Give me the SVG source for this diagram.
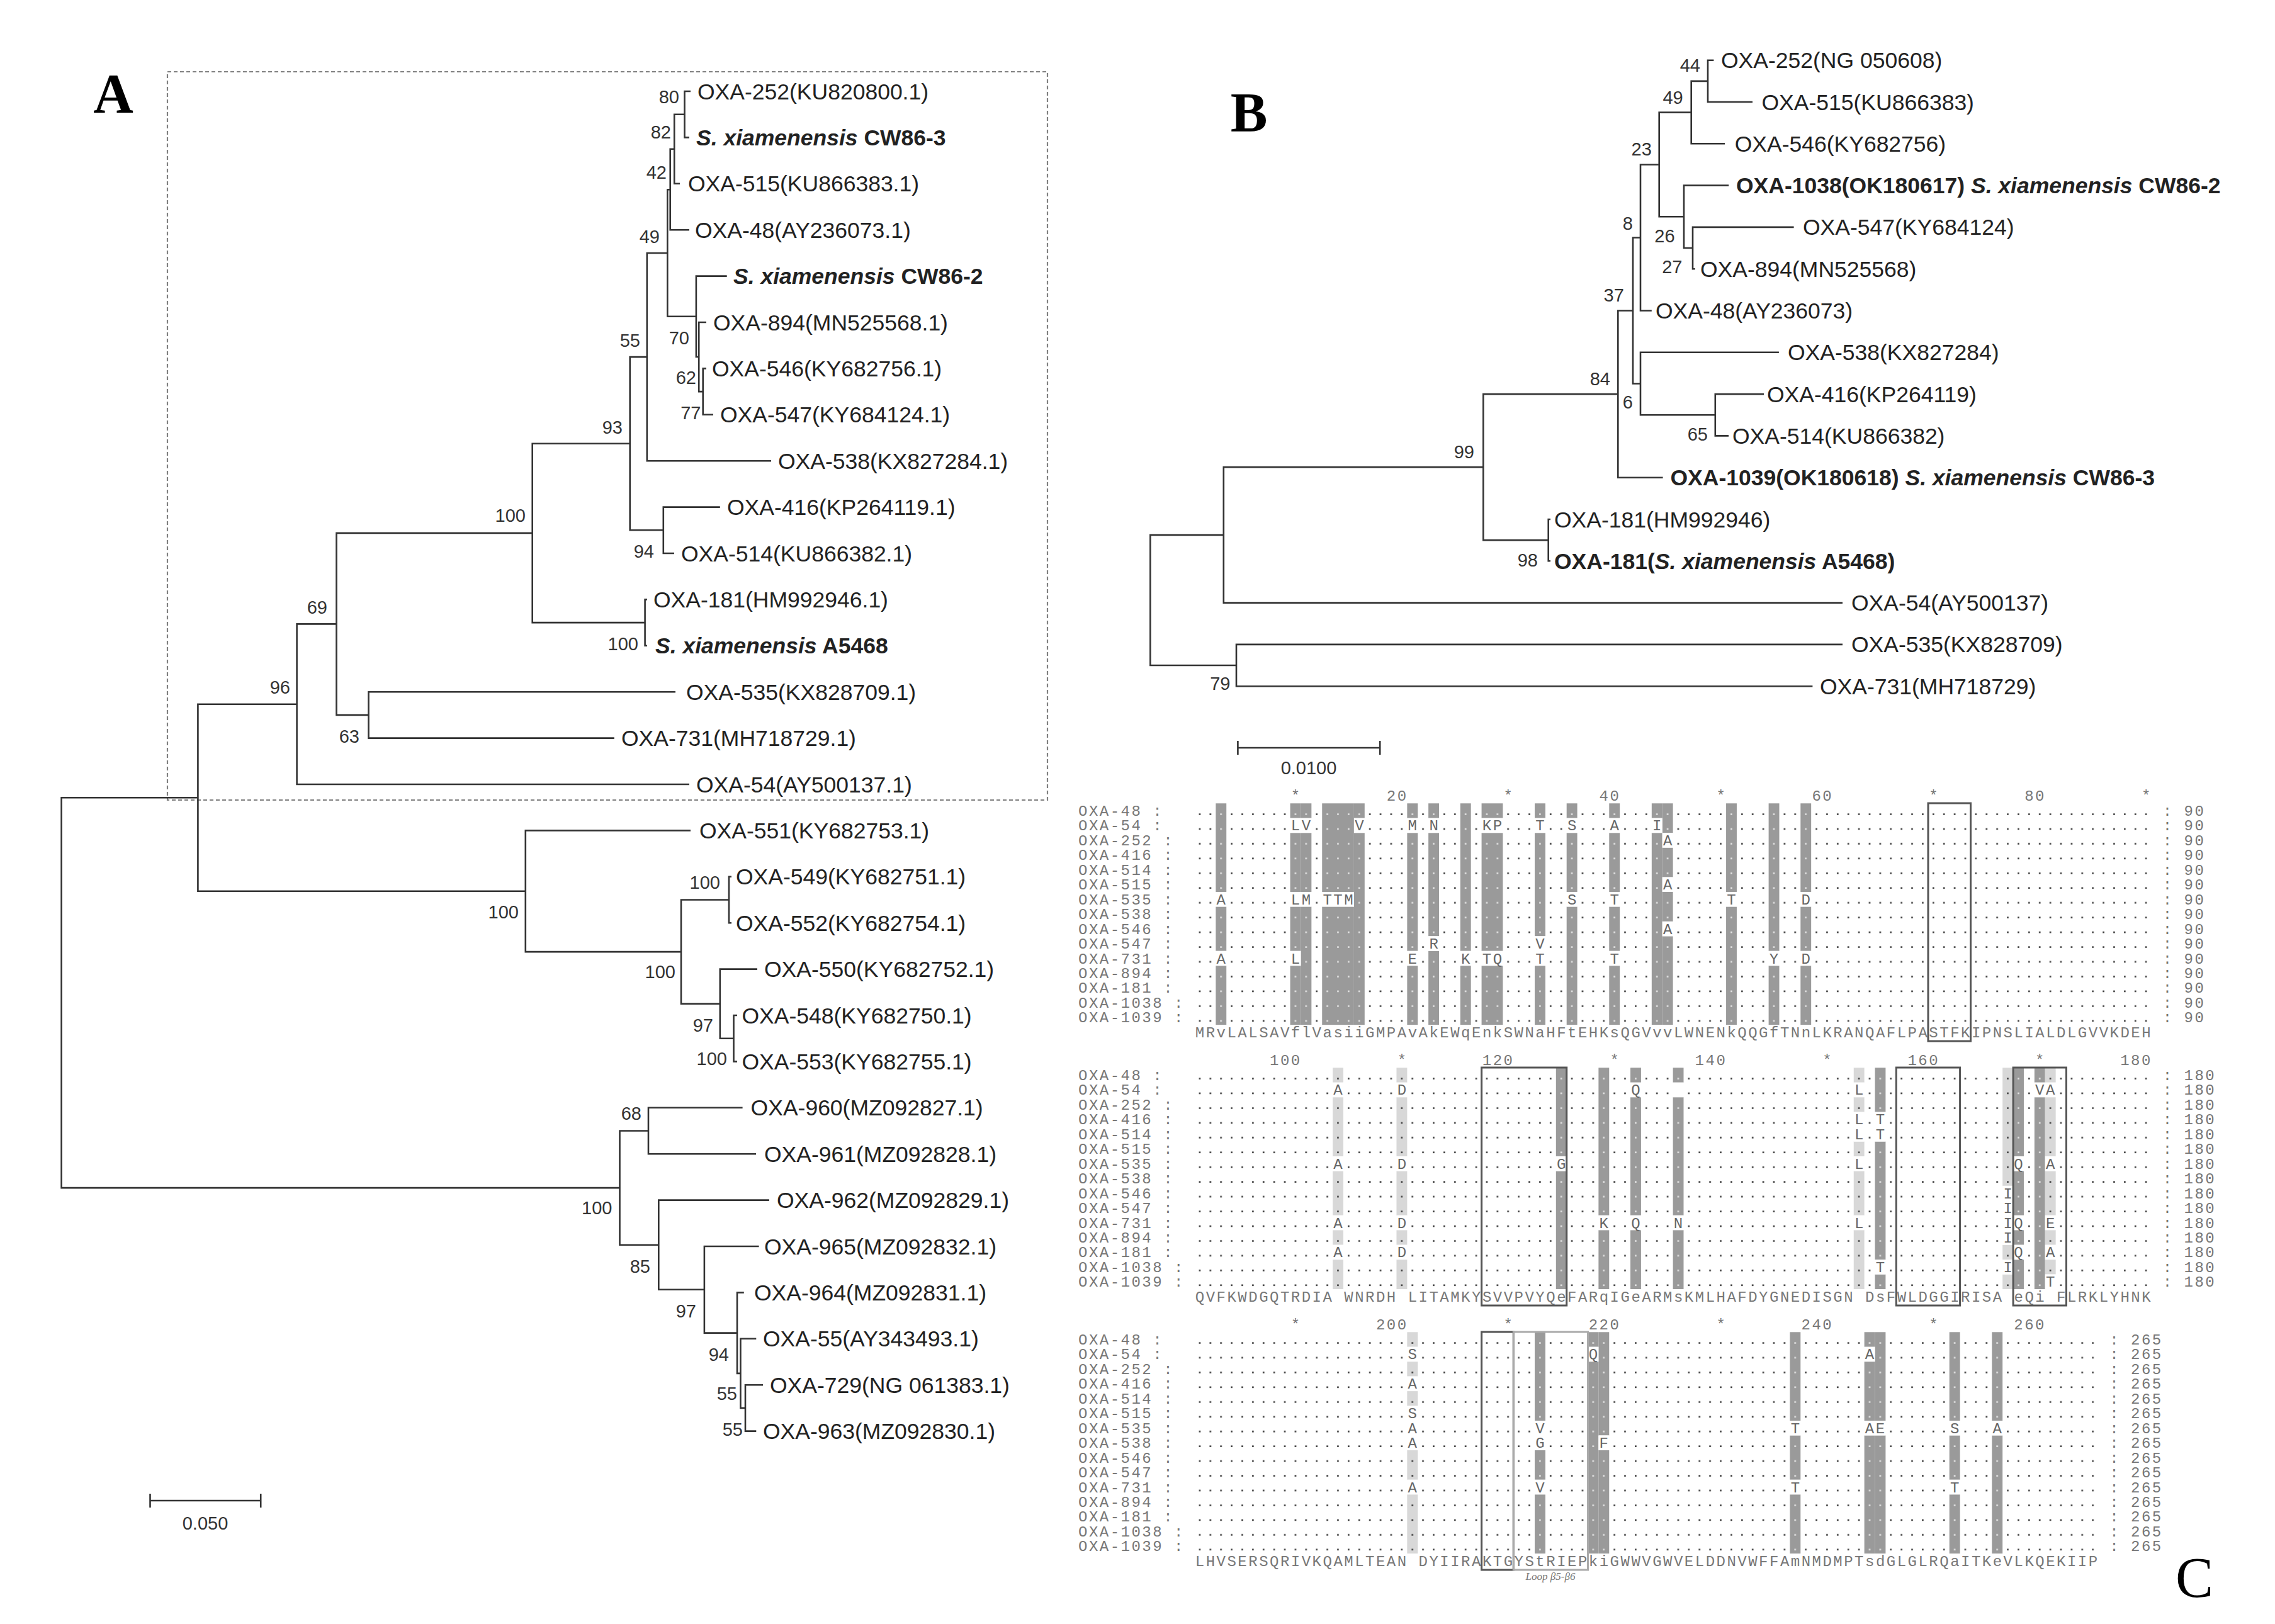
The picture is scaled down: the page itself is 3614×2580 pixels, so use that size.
<svg xmlns="http://www.w3.org/2000/svg" width="3614" height="2580" viewBox="0 0 3614 2580">
<style>
.t{font-family:"Liberation Sans",Arial,sans-serif;font-size:35.5px;fill:#222}
.b{font-weight:bold}
.i{font-style:italic}
.bs{font-family:"Liberation Sans",Arial,sans-serif;font-size:29px;fill:#333;text-anchor:end}
.sc{font-family:"Liberation Sans",Arial,sans-serif;font-size:29px;fill:#333;text-anchor:middle}
.br{fill:none;stroke:#333;stroke-width:2.6}
.pl{font-family:"Liberation Serif","Times New Roman",serif;font-size:88px;font-weight:bold;fill:#000;text-anchor:middle}
.m{font-family:"Liberation Mono","Courier New",monospace;font-size:24px;letter-spacing:2.49px;fill:#777;white-space:pre}
.mu{font-family:"Liberation Mono","Courier New",monospace;font-size:24px;fill:#666;text-anchor:middle}
.bx{fill:none;stroke:#555;stroke-width:3}
</style>
<defs>
<pattern id="dd" patternUnits="userSpaceOnUse" width="1" height="1"><rect x="0.42" y="0.68" width="0.15" height="0.11" fill="#333"/></pattern>
<pattern id="ld" patternUnits="userSpaceOnUse" width="1" height="1"><rect x="0.42" y="0.68" width="0.15" height="0.11" fill="#e6e6e6"/></pattern>
<g id="s1">
<rect x="2" y="0" width="1" height="6"/><rect x="2" y="7" width="1" height="3"/><rect x="2" y="11" width="1" height="4"/>
<rect x="9" y="0" width="1" height="1"/><rect x="9" y="2" width="1" height="4"/><rect x="9" y="7" width="1" height="3"/><rect x="9" y="11" width="1" height="4"/>
<rect x="10" y="0" width="1" height="1"/><rect x="10" y="2" width="1" height="4"/><rect x="10" y="7" width="1" height="8"/>
<rect x="12" y="0" width="3" height="6"/><rect x="12" y="7" width="3" height="8"/>
<rect x="15" y="0" width="1" height="1"/><rect x="15" y="2" width="1" height="13"/>
<rect x="20" y="0" width="1" height="1"/><rect x="20" y="2" width="1" height="8"/><rect x="20" y="11" width="1" height="4"/>
<rect x="22" y="0" width="1" height="1"/><rect x="22" y="2" width="1" height="7"/><rect x="22" y="10" width="1" height="5"/>
<rect x="25" y="0" width="1" height="10"/><rect x="25" y="11" width="1" height="4"/>
<rect x="27" y="0" width="2" height="1"/><rect x="27" y="2" width="2" height="8"/><rect x="27" y="11" width="2" height="4"/>
<rect x="32" y="0" width="1" height="1"/><rect x="32" y="2" width="1" height="7"/><rect x="32" y="11" width="1" height="4"/>
<rect x="35" y="0" width="1" height="1"/><rect x="35" y="2" width="1" height="4"/><rect x="35" y="7" width="1" height="8"/>
<rect x="39" y="0" width="1" height="1"/><rect x="39" y="2" width="1" height="4"/><rect x="39" y="7" width="1" height="3"/><rect x="39" y="11" width="1" height="4"/>
<rect x="43" y="0" width="1" height="1"/><rect x="43" y="2" width="1" height="13"/>
<rect x="44" y="0" width="1" height="2"/><rect x="44" y="3" width="1" height="2"/><rect x="44" y="6" width="1" height="2"/><rect x="44" y="9" width="1" height="6"/>
<rect x="50" y="0" width="1" height="6"/><rect x="50" y="7" width="1" height="8"/>
<rect x="54" y="0" width="1" height="10"/><rect x="54" y="11" width="1" height="4"/>
<rect x="57" y="0" width="1" height="6"/><rect x="57" y="7" width="1" height="3"/><rect x="57" y="11" width="1" height="4"/>
</g>
<g id="s2">
<rect x="34" y="0" width="1" height="6"/><rect x="34" y="7" width="1" height="8"/>
<rect x="38" y="0" width="1" height="10"/><rect x="38" y="11" width="1" height="4"/>
<rect x="41" y="0" width="1" height="1"/><rect x="41" y="2" width="1" height="8"/><rect x="41" y="11" width="1" height="4"/>
<rect x="45" y="0" width="1" height="1"/><rect x="45" y="2" width="1" height="8"/><rect x="45" y="11" width="1" height="4"/>
<rect x="64" y="0" width="1" height="3"/><rect x="64" y="5" width="1" height="8"/><rect x="64" y="14" width="1" height="1"/>
<rect x="77" y="0" width="1" height="6"/><rect x="77" y="7" width="1" height="3"/><rect x="77" y="11" width="1" height="1"/><rect x="77" y="13" width="1" height="2"/>
<rect x="79" y="0" width="1" height="1"/><rect x="79" y="2" width="1" height="13"/>
</g>
<g id="l2">
<rect x="13" y="0" width="1" height="1"/><rect x="13" y="2" width="1" height="4"/><rect x="13" y="7" width="1" height="3"/><rect x="13" y="11" width="1" height="1"/><rect x="13" y="13" width="1" height="2"/>
<rect x="19" y="0" width="1" height="1"/><rect x="19" y="2" width="1" height="4"/><rect x="19" y="7" width="1" height="3"/><rect x="19" y="11" width="1" height="1"/><rect x="19" y="13" width="1" height="2"/>
<rect x="62" y="0" width="1" height="1"/><rect x="62" y="2" width="1" height="1"/><rect x="62" y="5" width="1" height="1"/><rect x="62" y="7" width="1" height="3"/><rect x="62" y="11" width="1" height="4"/>
<rect x="76" y="0" width="1" height="8"/><rect x="76" y="12" width="1" height="1"/><rect x="76" y="14" width="1" height="1"/>
<rect x="80" y="0" width="1" height="1"/><rect x="80" y="2" width="1" height="4"/><rect x="80" y="7" width="1" height="3"/><rect x="80" y="11" width="1" height="1"/><rect x="80" y="13" width="1" height="1"/>
</g>
<g id="s3">
<rect x="32" y="0" width="1" height="6"/><rect x="32" y="8" width="1" height="2"/><rect x="32" y="11" width="1" height="4"/>
<rect x="37" y="0" width="1" height="1"/><rect x="37" y="2" width="1" height="13"/>
<rect x="38" y="0" width="1" height="7"/><rect x="38" y="8" width="1" height="7"/>
<rect x="56" y="0" width="1" height="6"/><rect x="56" y="7" width="1" height="3"/><rect x="56" y="11" width="1" height="4"/>
<rect x="63" y="0" width="1" height="1"/><rect x="63" y="2" width="1" height="4"/><rect x="63" y="7" width="1" height="8"/>
<rect x="64" y="0" width="1" height="6"/><rect x="64" y="7" width="1" height="8"/>
<rect x="71" y="0" width="1" height="6"/><rect x="71" y="7" width="1" height="3"/><rect x="71" y="11" width="1" height="4"/>
<rect x="75" y="0" width="1" height="6"/><rect x="75" y="7" width="1" height="8"/>
</g>
<g id="l3">
<rect x="20" y="0" width="1" height="1"/><rect x="20" y="2" width="1" height="1"/><rect x="20" y="4" width="1" height="1"/><rect x="20" y="8" width="1" height="2"/><rect x="20" y="11" width="1" height="4"/>
</g>
</defs>

<!-- Panel labels -->
<text class="pl" x="180" y="178">A</text>
<text class="pl" x="1984" y="208">B</text>
<text x="3486" y="2537" font-family="Liberation Serif,'Times New Roman',serif" font-size="90" fill="#000" text-anchor="middle">C</text>

<!-- ================= Panel A ================= -->
<rect x="266" y="114" width="1398" height="1157" fill="none" stroke="#808080" stroke-width="2.2" stroke-dasharray="6 4"/>
<g id="treeA-connectors" class="br">
<path d="M1097 145H1087.5V218.4H1095"/>
<path d="M1087.5 181.7H1071.2V291.8H1080"/>
<path d="M1071.2 236.75H1064.7V365.2H1095"/>
<path d="M1122 585.4H1116.7V658.8H1133"/>
<path d="M1122 512H1110.2V622.1H1116.7"/>
<path d="M1154.7 438.6H1105.9V567.05H1110.2"/>
<path d="M1064.7 301.3H1060.3V502.8H1105.9"/>
<path d="M1060.3 402.05H1027.8V732.2H1225"/>
<path d="M1143.8 805.6H1053.8V879H1071"/>
<path d="M1027.8 567.1H1000.7V842.3H1053.8"/>
<path d="M1028 952.4H1024.6V1025.8H1028"/>
<path d="M1000.7 704.7H845.7V989.1H1024.6"/>
<path d="M1073 1099.2H585.5V1172.6H975.8"/>
<path d="M845.7 846.9H534.5V1135.9H585.5"/>
<path d="M534.5 991.4H471.6V1246H1095"/>
<path d="M1162 1392.8H1158V1466.2H1162"/>
<path d="M1171 1613H1165.5V1686.4H1171"/>
<path d="M1203 1539.6H1143.8V1649.7H1165.5"/>
<path d="M1158 1429.5H1082V1594.65H1143.8"/>
<path d="M1097 1319.4H834.8V1512.1H1082"/>
<path d="M471.6 1118.7H314.4V1415.75H834.8"/>
<path d="M1179.6 1759.8H1030V1833.2H1201"/>
<path d="M1212 2200.2H1184V2273.6H1201.3"/>
<path d="M1201.3 2126.8H1176.4V2236.9H1184"/>
<path d="M1181.8 2053.4H1171V2181.85H1176.4"/>
<path d="M1205.6 1980H1118.9V2117.6H1171"/>
<path d="M1221.9 1906.6H1046.3V2048.8H1118.9"/>
<path d="M1030 1796.5H984.5V1977.7H1046.3"/>
<path d="M314.4 1267.2H97.6V1887.1H984.5"/>
<path d="M238.5 2384H414.2M238.5 2373V2395M414.2 2373V2395"/>
</g>
<g id="treeA-leaves">
<g id="A-OXA-252"><text class="t" x="1108" y="157.5">OXA-252(KU820800.1)</text></g>
<g id="A-CW86-3"><text class="t b" x="1106" y="231"><tspan class="i">S. xiamenensis</tspan> CW86-3</text></g>
<g id="A-OXA-515"><text class="t" x="1093" y="304">OXA-515(KU866383.1)</text></g>
<g id="A-OXA-48"><text class="t" x="1104" y="378">OXA-48(AY236073.1)</text></g>
<g id="A-CW86-2"><text class="t b" x="1165" y="451"><tspan class="i">S. xiamenensis</tspan> CW86-2</text></g>
<g id="A-OXA-894"><text class="t" x="1133" y="524.5">OXA-894(MN525568.1)</text></g>
<g id="A-OXA-546"><text class="t" x="1131" y="598">OXA-546(KY682756.1)</text></g>
<g id="A-OXA-547"><text class="t" x="1144" y="671">OXA-547(KY684124.1)</text></g>
<g id="A-OXA-538"><text class="t" x="1236" y="745">OXA-538(KX827284.1)</text></g>
<g id="A-OXA-416"><text class="t" x="1155" y="818">OXA-416(KP264119.1)</text></g>
<g id="A-OXA-514"><text class="t" x="1082" y="891.5">OXA-514(KU866382.1)</text></g>
<g id="A-OXA-181"><text class="t" x="1038" y="965">OXA-181(HM992946.1)</text></g>
<g id="A-A5468"><text class="t b" x="1041" y="1038"><tspan class="i">S. xiamenensis</tspan> A5468</text></g>
<g id="A-OXA-535"><text class="t" x="1090" y="1112">OXA-535(KX828709.1)</text></g>
<g id="A-OXA-731"><text class="t" x="987" y="1185">OXA-731(MH718729.1)</text></g>
<g id="A-OXA-54"><text class="t" x="1106" y="1258.5">OXA-54(AY500137.1)</text></g>
<g id="A-OXA-551"><text class="t" x="1111" y="1332">OXA-551(KY682753.1)</text></g>
<g id="A-OXA-549"><text class="t" x="1169" y="1405">OXA-549(KY682751.1)</text></g>
<g id="A-OXA-552"><text class="t" x="1169" y="1479">OXA-552(KY682754.1)</text></g>
<g id="A-OXA-550"><text class="t" x="1214" y="1552">OXA-550(KY682752.1)</text></g>
<g id="A-OXA-548"><text class="t" x="1178.5" y="1625.5">OXA-548(KY682750.1)</text></g>
<g id="A-OXA-553"><text class="t" x="1178.5" y="1699">OXA-553(KY682755.1)</text></g>
<g id="A-OXA-960"><text class="t" x="1192.6" y="1772">OXA-960(MZ092827.1)</text></g>
<g id="A-OXA-961"><text class="t" x="1214" y="1846">OXA-961(MZ092828.1)</text></g>
<g id="A-OXA-962"><text class="t" x="1234" y="1919">OXA-962(MZ092829.1)</text></g>
<g id="A-OXA-965"><text class="t" x="1214" y="1992.5">OXA-965(MZ092832.1)</text></g>
<g id="A-OXA-964"><text class="t" x="1198" y="2066">OXA-964(MZ092831.1)</text></g>
<g id="A-OXA-55"><text class="t" x="1212" y="2139">OXA-55(AY343493.1)</text></g>
<g id="A-OXA-729"><text class="t" x="1223" y="2212.5">OXA-729(NG 061383.1)</text></g>
<g id="A-OXA-963"><text class="t" x="1212" y="2286">OXA-963(MZ092830.1)</text></g>
</g>
<g id="treeA-bootstrap" class="bs">
<text x="1079" y="164">80</text>
<text x="1066" y="220">82</text>
<text x="1059" y="284">42</text>
<text x="1048" y="386">49</text>
<text x="1095" y="547">70</text>
<text x="1106" y="609.5">62</text>
<text x="1113.5" y="666">77</text>
<text x="1017" y="551">55</text>
<text x="989" y="689">93</text>
<text x="1039" y="886">94</text>
<text x="835" y="829">100</text>
<text x="1014" y="1033">100</text>
<text x="520" y="975">69</text>
<text x="571" y="1180">63</text>
<text x="461" y="1102">96</text>
<text x="824" y="1459">100</text>
<text x="1144" y="1412">100</text>
<text x="1073" y="1554">100</text>
<text x="1133" y="1639">97</text>
<text x="1155" y="1692">100</text>
<text x="1019" y="1779">68</text>
<text x="972.5" y="1929">100</text>
<text x="1033" y="2022">85</text>
<text x="1106" y="2093">97</text>
<text x="1158" y="2162">94</text>
<text x="1171" y="2224">55</text>
<text x="1180" y="2281">55</text>
</g>
<text class="sc" x="326" y="2430">0.050</text>

<!-- ================= Panel B ================= -->
<g id="treeB-connectors" class="br">
<path d="M2722.4 95.7H2713V162H2784"/>
<path d="M2713 128.85H2686.7V228.3H2740"/>
<path d="M2849.6 360.9H2689V427.2H2692.7"/>
<path d="M2746.2 294.6H2675V394.05H2689"/>
<path d="M2686.7 178.6H2635.7V344.3H2675"/>
<path d="M2635.7 261.45H2606V493.5H2623.8"/>
<path d="M2802 626.1H2724.8V692.4H2746"/>
<path d="M2825.9 559.8H2606V659.25H2724.8"/>
<path d="M2606 377.5H2594V609.5H2606"/>
<path d="M2594 493.5H2570.3V758.7H2641.6"/>
<path d="M2463 825H2459.7V891.3H2463"/>
<path d="M2570.3 626.1H2356.3V858.15H2459.7"/>
<path d="M2356.3 742.1H1943.8V957.6H2927"/>
<path d="M2927 1023.9H1964V1090.2H2879.4"/>
<path d="M1943.8 849.85H1827.3V1057.05H1964"/>
<path d="M1966.4 1188H2192.2M1966.4 1177V1199M2192.2 1177V1199"/>
</g>
<g id="treeB-leaves">
<g id="B-OXA-252"><text class="t" x="2734" y="108">OXA-252(NG 050608)</text></g>
<g id="B-OXA-515"><text class="t" x="2798.5" y="174.5">OXA-515(KU866383)</text></g>
<g id="B-OXA-546"><text class="t" x="2755.7" y="241">OXA-546(KY682756)</text></g>
<g id="B-OXA-1038"><text class="t b" x="2758" y="307">OXA-1038(OK180617) <tspan class="i">S. xiamenensis</tspan> CW86-2</text></g>
<g id="B-OXA-547"><text class="t" x="2864" y="373.4">OXA-547(KY684124)</text></g>
<g id="B-OXA-894"><text class="t" x="2701" y="440">OXA-894(MN525568)</text></g>
<g id="B-OXA-48"><text class="t" x="2630" y="506">OXA-48(AY236073)</text></g>
<g id="B-OXA-538"><text class="t" x="2840" y="572">OXA-538(KX827284)</text></g>
<g id="B-OXA-416"><text class="t" x="2807" y="638.6">OXA-416(KP264119)</text></g>
<g id="B-OXA-514"><text class="t" x="2752" y="705">OXA-514(KU866382)</text></g>
<g id="B-OXA-1039"><text class="t b" x="2653.5" y="771">OXA-1039(OK180618) <tspan class="i">S. xiamenensis</tspan> CW86-3</text></g>
<g id="B-OXA-181"><text class="t" x="2469" y="837.5">OXA-181(HM992946)</text></g>
<g id="B-OXA-181-A5468"><text class="t b" x="2469" y="904">OXA-181(<tspan class="i">S. xiamenensis</tspan> A5468)</text></g>
<g id="B-OXA-54"><text class="t" x="2941" y="970">OXA-54(AY500137)</text></g>
<g id="B-OXA-535"><text class="t" x="2941" y="1036.4">OXA-535(KX828709)</text></g>
<g id="B-OXA-731"><text class="t" x="2891" y="1102.7">OXA-731(MH718729)</text></g>
</g>
<g id="treeB-bootstrap" class="bs">
<text x="2701" y="114">44</text>
<text x="2673.7" y="164.5">49</text>
<text x="2623.8" y="247">23</text>
<text x="2594" y="364.5">8</text>
<text x="2660.6" y="385">26</text>
<text x="2672.5" y="433.6">27</text>
<text x="2579.8" y="479">37</text>
<text x="2594" y="649">6</text>
<text x="2558" y="611.6">84</text>
<text x="2713" y="700">65</text>
<text x="2342" y="727.7">99</text>
<text x="2443" y="900">98</text>
<text x="1954.5" y="1096">79</text>
</g>
<text class="sc" x="2079" y="1230">0.0100</text>

<!-- ================= Panel C: alignment ================= -->
<g id="shade1" transform="translate(1897.55 1276.28) scale(16.89 23.45)">
<rect width="90" height="15" fill="url(#dd)"/>
<use href="#s1" fill="#9a9a9a"/>
<use href="#s1" fill="url(#ld)"/>
<g fill="#fff">
<rect x="9" y="1" width="2" height="1"/><rect x="15" y="1" width="1" height="1"/><rect x="20" y="1" width="1" height="1"/><rect x="22" y="1" width="1" height="1"/><rect x="27" y="1" width="2" height="1"/><rect x="32" y="1" width="1" height="1"/><rect x="35" y="1" width="1" height="1"/><rect x="39" y="1" width="1" height="1"/><rect x="43" y="1" width="1" height="1"/>
<rect x="44" y="2" width="1" height="1"/><rect x="44" y="5" width="1" height="1"/><rect x="44" y="8" width="1" height="1"/>
<rect x="2" y="6" width="1" height="1"/><rect x="9" y="6" width="2" height="1"/><rect x="12" y="6" width="3" height="1"/><rect x="35" y="6" width="1" height="1"/><rect x="39" y="6" width="1" height="1"/><rect x="50" y="6" width="1" height="1"/><rect x="57" y="6" width="1" height="1"/>
<rect x="22" y="9" width="1" height="1"/><rect x="32" y="9" width="1" height="1"/>
<rect x="2" y="10" width="1" height="1"/><rect x="9" y="10" width="1" height="1"/><rect x="20" y="10" width="1" height="1"/><rect x="25" y="10" width="1" height="1"/><rect x="27" y="10" width="2" height="1"/><rect x="32" y="10" width="1" height="1"/><rect x="39" y="10" width="1" height="1"/><rect x="54" y="10" width="1" height="1"/><rect x="57" y="10" width="1" height="1"/>
</g>
</g>
<g id="shade2" transform="translate(1897.55 1696.28) scale(16.89 23.45)">
<rect width="90" height="15" fill="url(#dd)"/>
<use href="#s2" fill="#9a9a9a"/>
<use href="#s2" fill="url(#ld)"/>
<use href="#l2" fill="#d8d8d8"/>
<use href="#l2" fill="url(#dd)"/>
<g fill="#fff">
<rect x="13" y="1" width="1" height="1"/><rect x="19" y="1" width="1" height="1"/><rect x="41" y="1" width="1" height="1"/><rect x="45" y="1" width="1" height="1"/><rect x="62" y="1" width="1" height="1"/><rect x="79" y="1" width="2" height="1"/>
<rect x="62" y="3" width="1" height="1"/><rect x="64" y="3" width="1" height="1"/><rect x="62" y="4" width="1" height="1"/><rect x="64" y="4" width="1" height="1"/>
<rect x="13" y="6" width="1" height="1"/><rect x="19" y="6" width="1" height="1"/><rect x="34" y="6" width="1" height="1"/><rect x="62" y="6" width="1" height="1"/><rect x="77" y="6" width="1" height="1"/><rect x="80" y="6" width="1" height="1"/>
<rect x="76" y="8" width="1" height="1"/><rect x="76" y="9" width="1" height="1"/>
<rect x="13" y="10" width="1" height="1"/><rect x="19" y="10" width="1" height="1"/><rect x="38" y="10" width="1" height="1"/><rect x="41" y="10" width="1" height="1"/><rect x="45" y="10" width="1" height="1"/><rect x="62" y="10" width="1" height="1"/><rect x="76" y="10" width="2" height="1"/><rect x="80" y="10" width="1" height="1"/>
<rect x="76" y="11" width="1" height="1"/>
<rect x="13" y="12" width="1" height="1"/><rect x="19" y="12" width="1" height="1"/><rect x="77" y="12" width="1" height="1"/><rect x="80" y="12" width="1" height="1"/>
<rect x="64" y="13" width="1" height="1"/><rect x="76" y="13" width="1" height="1"/>
<rect x="80" y="14" width="1" height="1"/>
</g>
</g>
<g id="shade3" transform="translate(1897.55 2116.28) scale(16.89 23.45)">
<rect width="85" height="15" fill="url(#dd)"/>
<use href="#s3" fill="#9a9a9a"/>
<use href="#s3" fill="url(#ld)"/>
<use href="#l3" fill="#d8d8d8"/>
<use href="#l3" fill="url(#dd)"/>
<g fill="#fff">
<rect x="20" y="1" width="1" height="1"/><rect x="37" y="1" width="1" height="1"/><rect x="63" y="1" width="1" height="1"/>
<rect x="20" y="3" width="1" height="1"/><rect x="20" y="5" width="1" height="1"/>
<rect x="20" y="6" width="1" height="1"/><rect x="32" y="6" width="1" height="1"/><rect x="56" y="6" width="1" height="1"/><rect x="63" y="6" width="2" height="1"/><rect x="71" y="6" width="1" height="1"/><rect x="75" y="6" width="1" height="1"/>
<rect x="20" y="7" width="1" height="1"/><rect x="32" y="7" width="1" height="1"/><rect x="38" y="7" width="1" height="1"/>
<rect x="20" y="10" width="1" height="1"/><rect x="32" y="10" width="1" height="1"/><rect x="56" y="10" width="1" height="1"/><rect x="71" y="10" width="1" height="1"/>
</g>
</g>

<!-- sequence names -->
<g id="names1" class="m" xml:space="preserve">
<text x="1713" y="1296">OXA-48   :</text>
<text x="1713" y="1319.45">OXA-54   :</text>
<text x="1713" y="1342.9">OXA-252  :</text>
<text x="1713" y="1366.35">OXA-416  :</text>
<text x="1713" y="1389.8">OXA-514  :</text>
<text x="1713" y="1413.25">OXA-515  :</text>
<text x="1713" y="1436.7">OXA-535  :</text>
<text x="1713" y="1460.15">OXA-538  :</text>
<text x="1713" y="1483.6">OXA-546  :</text>
<text x="1713" y="1507.05">OXA-547  :</text>
<text x="1713" y="1530.5">OXA-731  :</text>
<text x="1713" y="1553.95">OXA-894  :</text>
<text x="1713" y="1577.4">OXA-181  :</text>
<text x="1713" y="1600.85">OXA-1038 :</text>
<text x="1713" y="1624.3">OXA-1039 :</text>
</g>
<use href="#names1" y="420"/>
<use href="#names1" y="840"/>

<!-- right-hand counts -->
<g id="right1" class="m" xml:space="preserve">
<text x="3435.8" y="1296">:  90</text><text x="3435.8" y="1319.45">:  90</text><text x="3435.8" y="1342.9">:  90</text><text x="3435.8" y="1366.35">:  90</text><text x="3435.8" y="1389.8">:  90</text><text x="3435.8" y="1413.25">:  90</text><text x="3435.8" y="1436.7">:  90</text><text x="3435.8" y="1460.15">:  90</text><text x="3435.8" y="1483.6">:  90</text><text x="3435.8" y="1507.05">:  90</text><text x="3435.8" y="1530.5">:  90</text><text x="3435.8" y="1553.95">:  90</text><text x="3435.8" y="1577.4">:  90</text><text x="3435.8" y="1600.85">:  90</text><text x="3435.8" y="1624.3">:  90</text>
</g>
<g id="right2" class="m" xml:space="preserve">
<text x="3435.8" y="1716">: 180</text><text x="3435.8" y="1739.45">: 180</text><text x="3435.8" y="1762.9">: 180</text><text x="3435.8" y="1786.35">: 180</text><text x="3435.8" y="1809.8">: 180</text><text x="3435.8" y="1833.25">: 180</text><text x="3435.8" y="1856.7">: 180</text><text x="3435.8" y="1880.15">: 180</text><text x="3435.8" y="1903.6">: 180</text><text x="3435.8" y="1927.05">: 180</text><text x="3435.8" y="1950.5">: 180</text><text x="3435.8" y="1973.95">: 180</text><text x="3435.8" y="1997.4">: 180</text><text x="3435.8" y="2020.85">: 180</text><text x="3435.8" y="2044.3">: 180</text>
</g>
<g id="right3" class="m" xml:space="preserve">
<text x="3351.3" y="2136">: 265</text><text x="3351.3" y="2159.45">: 265</text><text x="3351.3" y="2182.9">: 265</text><text x="3351.3" y="2206.35">: 265</text><text x="3351.3" y="2229.8">: 265</text><text x="3351.3" y="2253.25">: 265</text><text x="3351.3" y="2276.7">: 265</text><text x="3351.3" y="2300.15">: 265</text><text x="3351.3" y="2323.6">: 265</text><text x="3351.3" y="2347.05">: 265</text><text x="3351.3" y="2370.5">: 265</text><text x="3351.3" y="2393.95">: 265</text><text x="3351.3" y="2417.4">: 265</text><text x="3351.3" y="2440.85">: 265</text><text x="3351.3" y="2464.3">: 265</text>
</g>

<!-- column headers -->
<g id="headers" class="m">
<text x="2050.8" y="1272">*</text><text x="2202.8" y="1272">20</text><text x="2388.6" y="1272">*</text><text x="2540.6" y="1272">40</text><text x="2726.4" y="1272">*</text><text x="2878.4" y="1272">60</text><text x="3064.2" y="1272">*</text><text x="3216.2" y="1272">80</text><text x="3402" y="1272">*</text>
<text x="2017" y="1692">100</text><text x="2219.7" y="1692">*</text><text x="2354.8" y="1692">120</text><text x="2557.5" y="1692">*</text><text x="2692.6" y="1692">140</text><text x="2895.3" y="1692">*</text><text x="3030.4" y="1692">160</text><text x="3233.1" y="1692">*</text><text x="3368.2" y="1692">180</text>
<text x="2050.8" y="2112">*</text><text x="2185.9" y="2112">200</text><text x="2388.6" y="2112">*</text><text x="2523.7" y="2112">220</text><text x="2726.4" y="2112">*</text><text x="2861.5" y="2112">240</text><text x="3064.2" y="2112">*</text><text x="3199.3" y="2112">260</text>
</g>

<!-- consensus -->
<g id="consensus" class="m" xml:space="preserve">
<text x="1898.8" y="1647.75">MRvLALSAVflVasiiGMPAvAkEWqEnkSWNaHFtEHKsQGVvvLWNENkQQGfTNnLKRANQAFLPASTFKIPNSLIALDLGVVKDEH</text>
<text x="1898.8" y="2067.75">QVFKWDGQTRDIA WNRDH LITAMKYSVVPVYQeFARqIGeARMsKMLHAFDYGNEDISGN DsFWLDGGIRISA eQi FLRKLYHNK</text>
<text x="1898.8" y="2487.75">LHVSERSQRIVKQAMLTEAN DYIIRAKTGYStRIEPkiGWWVGWVELDDNVWFFAmNMDMPTsdGLGLRQaITKeVLKQEKIIP</text>
</g>

<!-- substitutions -->
<g id="subs" class="mu">
<text x="2058.01" y="1319.45">L</text><text x="2074.9" y="1319.45">V</text><text x="2159.35" y="1319.45">V</text><text x="2243.8" y="1319.45">M</text><text x="2277.58" y="1319.45">N</text><text x="2362.03" y="1319.45">K</text><text x="2378.92" y="1319.45">P</text><text x="2446.48" y="1319.45">T</text><text x="2497.15" y="1319.45">S</text><text x="2564.71" y="1319.45">A</text><text x="2632.27" y="1319.45">I</text>
<text x="2649.16" y="1342.9">A</text><text x="2649.16" y="1413.25">A</text><text x="2649.16" y="1483.6">A</text>
<text x="1939.78" y="1436.7">A</text><text x="2058.01" y="1436.7">L</text><text x="2074.9" y="1436.7">M</text><text x="2108.68" y="1436.7">T</text><text x="2125.57" y="1436.7">T</text><text x="2142.46" y="1436.7">M</text><text x="2497.15" y="1436.7">S</text><text x="2564.71" y="1436.7">T</text><text x="2750.5" y="1436.7">T</text><text x="2868.73" y="1436.7">D</text>
<text x="2277.58" y="1507.05">R</text><text x="2446.48" y="1507.05">V</text>
<text x="1939.78" y="1530.5">A</text><text x="2058.01" y="1530.5">L</text><text x="2243.8" y="1530.5">E</text><text x="2328.25" y="1530.5">K</text><text x="2362.03" y="1530.5">T</text><text x="2378.92" y="1530.5">Q</text><text x="2446.48" y="1530.5">T</text><text x="2564.71" y="1530.5">T</text><text x="2818.06" y="1530.5">Y</text><text x="2868.73" y="1530.5">D</text>

<text x="2125.57" y="1739.45">A</text><text x="2226.91" y="1739.45">D</text><text x="2598.49" y="1739.45">Q</text><text x="2953.18" y="1739.45">L</text><text x="3240.31" y="1739.45">V</text><text x="3257.2" y="1739.45">A</text>
<text x="2953.18" y="1786.35">L</text><text x="2986.96" y="1786.35">T</text><text x="2953.18" y="1809.8">L</text><text x="2986.96" y="1809.8">T</text>
<text x="2125.57" y="1856.7">A</text><text x="2226.91" y="1856.7">D</text><text x="2480.26" y="1856.7">G</text><text x="2953.18" y="1856.7">L</text><text x="3206.53" y="1856.7">Q</text><text x="3257.2" y="1856.7">A</text>
<text x="3189.64" y="1903.6">I</text><text x="3189.64" y="1927.05">I</text>
<text x="2125.57" y="1950.5">A</text><text x="2226.91" y="1950.5">D</text><text x="2547.82" y="1950.5">K</text><text x="2598.49" y="1950.5">Q</text><text x="2666.05" y="1950.5">N</text><text x="2953.18" y="1950.5">L</text><text x="3189.64" y="1950.5">I</text><text x="3206.53" y="1950.5">Q</text><text x="3257.2" y="1950.5">E</text>
<text x="3189.64" y="1973.95">I</text>
<text x="2125.57" y="1997.4">A</text><text x="2226.91" y="1997.4">D</text><text x="3206.53" y="1997.4">Q</text><text x="3257.2" y="1997.4">A</text>
<text x="2986.96" y="2020.85">T</text><text x="3189.64" y="2020.85">I</text>
<text x="3257.2" y="2044.3">T</text>

<text x="2243.8" y="2159.45">S</text><text x="2530.93" y="2159.45">Q</text><text x="2970.07" y="2159.45">A</text>
<text x="2243.8" y="2206.35">A</text><text x="2243.8" y="2253.25">S</text>
<text x="2243.8" y="2276.7">A</text><text x="2446.48" y="2276.7">V</text><text x="2851.84" y="2276.7">T</text><text x="2970.07" y="2276.7">A</text><text x="2986.96" y="2276.7">E</text><text x="3105.19" y="2276.7">S</text><text x="3172.75" y="2276.7">A</text>
<text x="2243.8" y="2300.15">A</text><text x="2446.48" y="2300.15">G</text><text x="2547.82" y="2300.15">F</text>
<text x="2243.8" y="2370.5">A</text><text x="2446.48" y="2370.5">V</text><text x="2851.84" y="2370.5">T</text><text x="3105.19" y="2370.5">T</text>
</g>

<!-- motif boxes -->
<g id="motif-boxes">
<rect class="bx" x="3063" y="1276" width="67.5" height="378"/>
<rect class="bx" x="2353.6" y="1696" width="135.1" height="378"/>
<rect class="bx" x="3012.3" y="1696" width="101.3" height="378"/>
<rect class="bx" x="3198.1" y="1696" width="84.4" height="378"/>
<rect class="bx" x="2353.6" y="2116" width="50.7" height="378"/>
<rect x="2404.3" y="2116" width="118.2" height="378" fill="none" stroke="#aaa" stroke-width="3"/>
</g>
<text x="2463" y="2510" font-family="Liberation Serif,'Times New Roman',serif" font-style="italic" font-size="17" fill="#777" text-anchor="middle">Loop β5-β6</text>
</svg>
